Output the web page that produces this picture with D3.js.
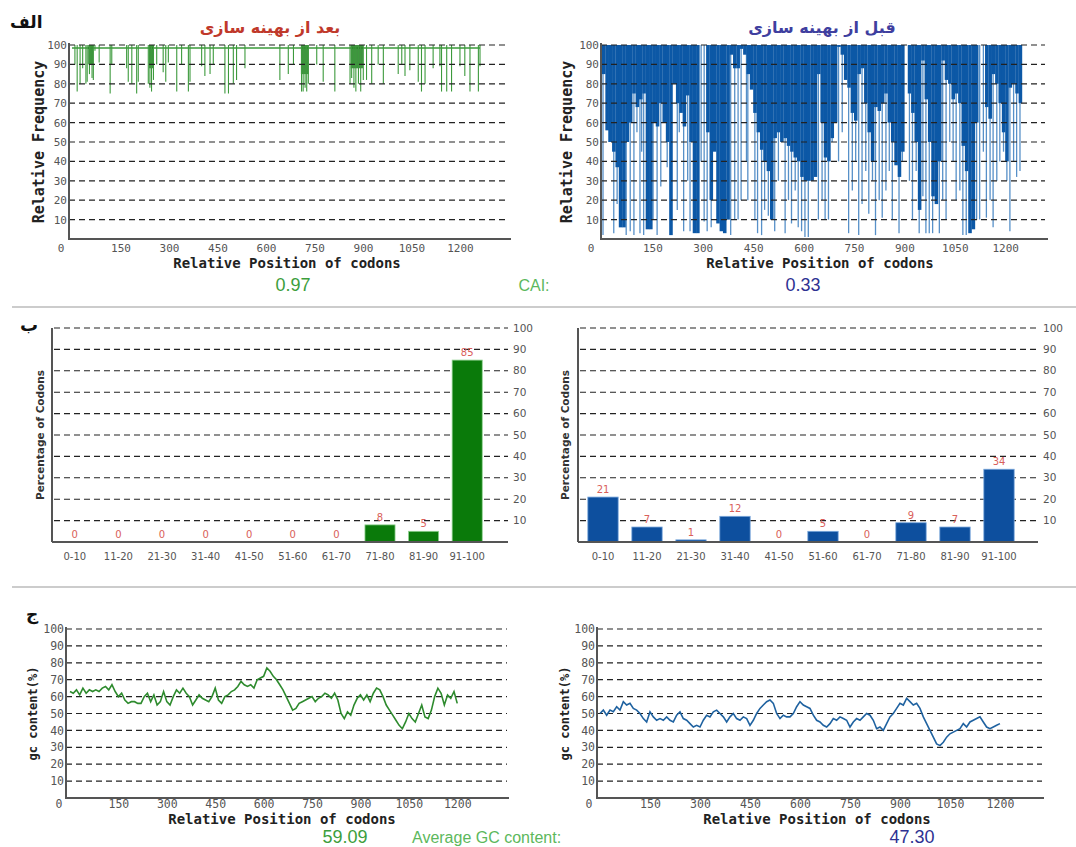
<!DOCTYPE html>
<html>
<head>
<meta charset="utf-8">
<script src="https://cdn.jsdelivr.net/npm/d3@7"></script>
<style>body{margin:0;background:#fff}</style>
</head>
<body>
<script>
// ticks & categories
var posTicks = [0, 150, 300, 450, 600, 750, 900, 1050, 1200];
var pctTicks = [10, 20, 30, 40, 50, 60, 70, 80, 90, 100];
var bins = ["0-10", "11-20", "21-30", "31-40", "41-50", "51-60", "61-70", "71-80", "81-90", "91-100"];

// codon usage distribution (%)
var afterPct = [0, 0, 0, 0, 0, 0, 0, 8, 5, 85];
var beforePct = [21, 7, 1, 12, 0, 5, 0, 9, 7, 34];

var caiAfter = "0.97", caiBefore = "0.33";
var gcAfter = "59.09", gcBefore = "47.30";

// after optimisation: [codon, relative frequency] of the dips below the top
var afterDips = [[9,90],[16,76],[25,80],[33,88],[43,80],[47,81],[54,85],[58,90],[62,83],[66,82],[71,97],[84,91],
  [118,75],[123,90],[169,88],[174,81],[185,80],[200,75],[205,81],[236,80],[241,78],[246,76],[252,82],[262,90],
  [282,86],[290,81],[298,91],[324,76],[339,90],[360,76],[365,81],[401,89],[411,84],[427,85],[437,90],[473,75],
  [484,75],[499,80],[509,82],[535,88],[643,82],[669,85],[685,90],[710,76],[715,76],[721,78],[726,76],[731,80],
  [757,90],[777,81],[813,76],[860,80],[865,83],[872,78],[878,76],[886,80],[893,76],[901,82],[911,82],[927,80],
  [947,90],[963,80],[1009,85],[1020,90],[1030,84],[1045,87],[1071,81],[1081,76],[1092,80],[1117,88],[1138,89],
  [1143,76],[1159,76],[1174,76],[1200,89],[1215,84],[1231,76],[1257,76],[1262,89]];
// dense runs: [from codon, to codon, depth]
var afterClusters = [[50,66,90],[238,252,88],[708,732,85],[862,900,88]];
var afterTop = 98.5, afterEnd = 1262;

// before optimisation: deepest solid fill per 10-codon bin (from codon 0)
var beforeBody = [85,56,50,45,37,6,6,50,60,75,
  68,72,75,5,5,60,58,70,60,50,
  2,80,70,65,58,74,50,3,3,100,
  100,55,20,45,8,4,3,10,95,88,
  88,98,95,85,77,65,55,46,40,35,
  10,52,55,50,52,48,45,42,40,32,
  30,30,30,32,85,60,42,40,52,60,
  99,95,82,78,65,61,85,88,70,55,
  40,68,66,70,75,60,50,38,32,45,
  100,75,65,50,15,92,72,50,22,18,
  40,92,82,80,72,75,70,48,35,3,
  5,60,100,100,68,62,85,80,70,55,
  40,78,80,75,70];
// thin single-codon lines: [codon, relative frequency]
var beforeSpikes = [[3,2],[20,50],[35,3],[45,18],[72,2],[84,4],[95,2],[104,55],[113,3],[118,45],[124,2],
  [152,10],[164,2],[175,27],[194,37],[224,15],[230,55],[243,4],[255,30],[262,4],
  [295,40],[304,9],[313,4],[325,6],[345,55],[383,2],[395,10],[405,10],[414,20],[430,40],[434,20],[455,10],
  [463,3],[475,2],[484,15],[495,12],[514,4],[525,30],[545,3],[555,20],[564,8],[575,25],[584,6],
  [594,4],[604,1],[614,1],[625,35],[644,10],[655,20],[664,10],[674,10],[685,50],[704,40],[715,55],[734,3],
  [745,25],[755,40],[764,2],[774,18],[785,35],[794,13],[805,30],[814,2],[825,20],[834,11],[845,25],[855,35],
  [864,10],[875,40],[884,3],[894,40],[915,30],[924,10],[935,35],[944,3],[955,22],[964,3],[974,3],[984,3],
  [995,30],[1004,3],[1014,20],[1024,10],[1035,50],[1045,40],[1054,20],[1065,25],[1074,2],[1084,2],[1115,10],
  [1124,10],[1135,45],[1144,11],[1155,20],[1164,6],[1175,30],[1184,40],[1195,45],[1205,30],[1214,4],
  [1225,40],[1234,32],[1244,35]];

// GC content (%) every 10 codons from 0 to 1200
var afterGC = [63,62,64,61,65,62,64,63,64,63, 65,66,64,67,63,60,62,58,56,57,
  57,56,56,60,62,57,61,55,57,63, 57,55,60,64,62,65,62,60,55,58,
  61,59,58,57,60,65,58,56,60,61, 63,64,66,69,67,66,67,65,70,71,
  72,77,75,72,70,67,64,60,56,52, 53,56,57,58,59,60,57,59,60,62,
  61,59,62,58,50,47,51,49,55,59, 61,58,61,57,62,65,64,60,55,52,
  49,46,43,41,45,50,47,45,50,55, 48,47,52,60,65,62,55,61,59,63, 56];
var beforeGC = [50,52,49,52,51,54,52,57,55,56, 53,52,50,47,45,51,48,46,47,46,
  48,46,45,49,51,47,46,44,42,43, 42,46,49,48,51,52,50,48,45,48,
  50,47,46,48,47,43,46,50,53,55, 57,58,56,50,47,49,48,48,50,54,
  57,55,54,53,49,46,45,43,42,44, 47,46,48,47,46,42,45,47,46,48,
  50,49,46,41,42,40,44,48,50,53, 56,55,59,57,55,56,53,48,44,40,
  36,32,31,33,36,38,39,40,41,44, 42,45,46,47,48,45,42,41,42,43, 44];
var gcStep = 10, binStep = 10;

var svg = d3.select("body").append("svg")
  .attr("width", 1076).attr("height", 847)
  .style("font-family", "DejaVu Sans");

var mono = "DejaVu Sans Mono";

// frame for the position charts (top and bottom rows)
function posFrame(o) {
  var g = svg.append("g");
  var under = g.append("g"), data = g.append("g"), over = g.append("g");
  var y0 = o.y(0), y100 = o.y(100);
  (o.gridOnTop ? over : under).selectAll("line").data(pctTicks).enter().append("line")
    .attr("x1", o.axisX).attr("x2", o.gridEnd)
    .attr("y1", function (d) { return o.y(d); })
    .attr("y2", function (d) { return o.y(d); })
    .attr("stroke", "#222").attr("stroke-width", 1.2).attr("stroke-dasharray", "6,4");

  var ya = over.append("g").attr("transform", "translate(" + (o.axisX - 1) + ",0)")
    .call(d3.axisLeft(o.y).tickValues(pctTicks).tickSize(0).tickPadding(1));
  ya.select(".domain").remove();
  ya.attr("font-family", mono).attr("font-size", o.tickFs);
  ya.selectAll("text").attr("fill", "#555");

  var xa = over.append("g").attr("transform", "translate(0," + y0 + ")")
    .call(d3.axisBottom(o.x).tickValues(posTicks).tickFormat(d3.format("d")).tickSize(0).tickPadding(o.xPad));
  xa.select(".domain").remove();
  xa.attr("font-family", mono).attr("font-size", o.tickFs);
  xa.selectAll("text").attr("fill", "#555");
  xa.selectAll(".tick").filter(function (d) { return d === 0; })
    .attr("transform", "translate(" + (o.x(0) - 11) + ",0)");

  over.append("line").attr("x1", o.axisX).attr("x2", o.axisX)
    .attr("y1", y100 - 2).attr("y2", y0 + 1).attr("stroke", "#555").attr("stroke-width", 2);
  over.append("line").attr("x1", o.axisX).attr("x2", o.axisEnd)
    .attr("y1", y0).attr("y2", y0).attr("stroke", "#555").attr("stroke-width", 2);

  over.append("text").attr("transform", "translate(" + o.yTitleX + "," + (y100 + y0) / 2 + ") rotate(-90)")
    .attr("dy", "0.35em").attr("text-anchor", "middle")
    .attr("font-family", mono).attr("font-weight", "bold").attr("font-size", o.yTitleFs)
    .attr("fill", "#222").text(o.yTitle);
  over.append("text").attr("x", o.xTitleX).attr("y", o.xTitleY).attr("text-anchor", "middle")
    .attr("font-family", mono).attr("font-weight", "bold").attr("font-size", 14)
    .attr("fill", "#222").text("Relative Position of codons");
  return data;
}

// ---------- row 1: relative frequency along the sequence ----------
var yA = d3.scaleLinear().domain([0, 100]).range([239, 45]);
var xAL = d3.scaleLinear().domain([0, 1350]).range([72, 72 + 1350 * 0.3233]);
var xAR = d3.scaleLinear().domain([0, 1323]).range([602, 602 + 1323 * 0.336]);

var gAL = posFrame({ x: xAL, y: yA, axisX: 69, gridEnd: 508, axisEnd: 511, tickFs: 11, xPad: 5,
  yTitle: "Relative Frequency", yTitleX: 39, yTitleFs: 15, xTitleX: 287, xTitleY: 268, gridOnTop: true });

gAL.append("line").attr("x1", xAL(0)).attr("x2", xAL(afterEnd))
  .attr("y1", yA(afterTop)).attr("y2", yA(afterTop))
  .attr("stroke", "#3a9a3a").attr("stroke-width", 1.5);
gAL.selectAll("rect.cl").data(afterClusters).enter().append("rect")
  .attr("x", function (d) { return xAL(d[0]); })
  .attr("width", function (d) { return xAL(d[1]) - xAL(d[0]); })
  .attr("y", yA(100)).attr("height", function (d) { return yA(d[2]) - yA(100); })
  .attr("fill", "#1f7f1f").attr("opacity", 0.85);
gAL.selectAll("line.dip").data(afterDips).enter().append("line")
  .attr("x1", function (d) { return xAL(d[0]); }).attr("x2", function (d) { return xAL(d[0]); })
  .attr("y1", yA(100)).attr("y2", function (d) { return yA(d[1]); })
  .attr("stroke", "#3d9a3d").attr("stroke-width", 1.1);

var gAR = posFrame({ x: xAR, y: yA, axisX: 601, gridEnd: 1045, axisEnd: 1048, tickFs: 11, xPad: 5,
  yTitle: "Relative Frequency", yTitleX: 567, yTitleFs: 15, xTitleX: 820, xTitleY: 268, gridOnTop: true });

gAR.selectAll("line.sp").data(beforeSpikes).enter().append("line")
  .attr("x1", function (d) { return xAR(d[0]); }).attr("x2", function (d) { return xAR(d[0]); })
  .attr("y1", yA(100)).attr("y2", function (d) { return yA(d[1]); })
  .attr("stroke", "#5790c8").attr("stroke-width", 1.3);
gAR.selectAll("rect.body").data(beforeBody).enter().append("rect")
  .attr("x", function (d, i) { return xAR(i * binStep); })
  .attr("width", xAR(binStep) - xAR(0) + 0.2)
  .attr("y", yA(100))
  .attr("height", function (d) { return yA(d) - yA(100); })
  .attr("fill", "#0c58a6");

// ---------- row 2: distribution of codon quality ----------
var yB = d3.scaleLinear().domain([0, 100]).range([542, 328]);

function barPanel(o) {
  var g = svg.append("g");
  var x = d3.scaleBand().domain(bins).range(o.range).paddingInner(0.31).paddingOuter(0.155);
  g.selectAll("line.grid").data(pctTicks).enter().append("line")
    .attr("x1", o.axisX + 2).attr("x2", o.gridEnd)
    .attr("y1", function (d) { return yB(d); }).attr("y2", function (d) { return yB(d); })
    .attr("stroke", "#222").attr("stroke-width", 1.1).attr("stroke-dasharray", "6,4");
  g.selectAll("text.rt").data(pctTicks).enter().append("text")
    .attr("x", o.gridEnd + 5).attr("y", function (d) { return yB(d); }).attr("dy", "0.35em")
    .attr("font-size", 10.5).attr("fill", "#555").text(function (d) { return d; });
  g.selectAll("rect").data(o.values).enter().append("rect")
    .attr("x", function (d, i) { return x(bins[i]); })
    .attr("width", x.bandwidth())
    .attr("y", function (d) { return yB(d); })
    .attr("height", function (d) { return yB(0) - yB(d); })
    .attr("fill", o.color).attr("stroke", o.edge).attr("stroke-width", 0.8);
  g.selectAll("text.val").data(o.values).enter().append("text")
    .attr("x", function (d, i) { return x(bins[i]) + x.bandwidth() / 2; })
    .attr("y", function (d) { return yB(d) - 4; })
    .attr("text-anchor", "middle").attr("font-size", 10).attr("fill", "#d9605a")
    .text(function (d) { return d; });
  var xa = g.append("g").attr("transform", "translate(0," + yB(0) + ")")
    .call(d3.axisBottom(x).tickSize(0).tickPadding(11));
  xa.select(".domain").remove();
  xa.attr("font-family", "DejaVu Sans").attr("font-size", 10);
  xa.selectAll("text").attr("fill", "#555");
  g.append("line").attr("x1", o.axisX).attr("x2", o.axisX).attr("y1", yB(100)).attr("y2", yB(0))
    .attr("stroke", "#555").attr("stroke-width", 2);
  g.append("line").attr("x1", o.axisX).attr("x2", o.gridEnd).attr("y1", yB(0)).attr("y2", yB(0))
    .attr("stroke", "#555").attr("stroke-width", 2);
  g.append("text").attr("transform", "translate(" + o.titleX + "," + (yB(0) + yB(100)) / 2 + ") rotate(-90)")
    .attr("dy", "0.35em").attr("text-anchor", "middle").attr("font-weight", "bold")
    .attr("font-size", 10.5).attr("fill", "#333").text("Percentage of Codons");
}

barPanel({ values: afterPct, range: [53, 489], axisX: 52, gridEnd: 508, color: "#0a7a0a", edge: "#8fd08f", titleX: 40 });
barPanel({ values: beforePct, range: [581, 1021], axisX: 578, gridEnd: 1038, color: "#0d4f9e", edge: "#7aa8dc", titleX: 565 });

// ---------- row 3: GC content ----------
var yC = d3.scaleLinear().domain([0, 100]).range([798, 629]);
var xCL = d3.scaleLinear().domain([0, 1355]).range([70, 70 + 1355 * 0.3227]);
var xCR = d3.scaleLinear().domain([0, 1326]).range([600, 600 + 1326 * 0.3333]);

var gCL = posFrame({ x: xCL, y: yC, axisX: 66, gridEnd: 507, axisEnd: 509, tickFs: 11.5, xPad: 2,
  yTitle: "gc content(%)", yTitleX: 33, yTitleFs: 12, xTitleX: 282, xTitleY: 824, gridOnTop: false });
var gCR = posFrame({ x: xCR, y: yC, axisX: 597, gridEnd: 1042, axisEnd: 1044, tickFs: 11.5, xPad: 2,
  yTitle: "gc content(%)", yTitleX: 565, yTitleFs: 12, xTitleX: 817, xTitleY: 824, gridOnTop: false });

gCL.append("path").datum(afterGC)
  .attr("d", d3.line().x(function (d, i) { return xCL(i * gcStep); }).y(function (d) { return yC(d); }))
  .attr("fill", "none").attr("stroke", "#2e8b2e").attr("stroke-width", 1.6);
gCR.append("path").datum(beforeGC)
  .attr("d", d3.line().x(function (d, i) { return xCR(i * gcStep); }).y(function (d) { return yC(d); }))
  .attr("fill", "none").attr("stroke", "#1f62a0").attr("stroke-width", 1.6);

// ---------- titles, separators, summary values ----------
function label(x, y, txt, size, color, opts) {
  opts = opts || {};
  return svg.append("text").attr("x", x).attr("y", y).text(txt)
    .attr("font-size", size).attr("fill", color)
    .attr("text-anchor", opts.anchor || "middle")
    .attr("font-family", opts.font || "Liberation Sans")
    .attr("font-weight", opts.weight || "normal");
}

label(10, 28, "الف", 17, "#111", { anchor: "start", font: "DejaVu Sans", weight: "bold" });
label(20, 331, "ب", 18, "#111", { anchor: "start", font: "DejaVu Sans", weight: "bold" });
label(26, 620, "ج", 17, "#111", { anchor: "start", font: "DejaVu Sans", weight: "bold" });

label(270, 33, "بعد از بهینه سازی", 16, "#c0392b", { font: "DejaVu Sans", weight: "bold" });
label(822, 33, "قبل از بهینه سازی", 16, "#3f3f9f", { font: "DejaVu Sans", weight: "bold" });

svg.append("line").attr("x1", 12).attr("x2", 1076).attr("y1", 307).attr("y2", 307)
  .attr("stroke", "#9a9a9a").attr("stroke-width", 1.2);
svg.append("line").attr("x1", 12).attr("x2", 1076).attr("y1", 587).attr("y2", 587)
  .attr("stroke", "#9a9a9a").attr("stroke-width", 1.2);

label(293, 291, caiAfter, 18, "#3c9e3c");
label(534, 291, "CAI:", 16, "#5cb85c");
label(803, 291, caiBefore, 18, "#2e3192");

label(345, 843, gcAfter, 18, "#3c9e3c");
label(412, 843, "Average GC content:", 16, "#5cb85c", { anchor: "start" });
label(912, 843, gcBefore, 18, "#2e3192");
</script>
</body>
</html>
